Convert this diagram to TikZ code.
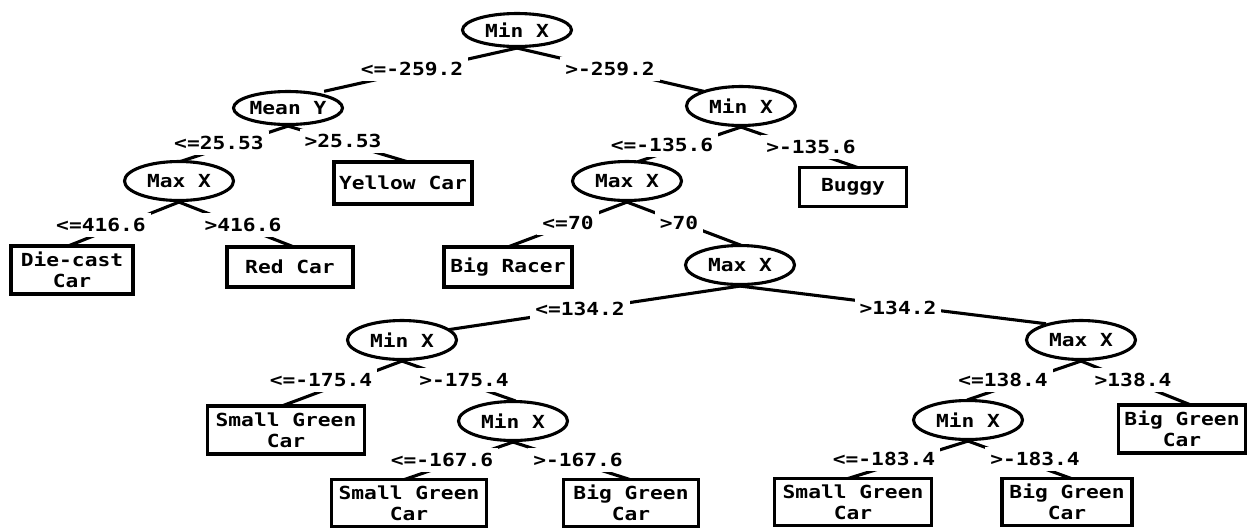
\documentclass[tikz,border=0pt]{standalone}
\usepackage{fontspec}
\newfontfamily\treefont{DejaVu Sans Mono}[FakeStretch=1.18]
\usetikzlibrary{shapes.geometric,backgrounds,calc}
\begin{document}
\begin{tikzpicture}[x=1pt,y=-1pt,
  every node/.style={font=\treefont\bfseries\fontsize{18}{21}\selectfont},
  decnode/.style={ellipse, draw, line width=3.1pt, fill=white, minimum width=109pt, minimum height=39pt, inner sep=0pt},
  leafbox/.style={rectangle, draw, line width=3.1pt, fill=white, inner sep=0pt, align=center},
  condlbl/.style={fill=white, inner xsep=5pt, inner ysep=5pt},
  branch/.style={line width=3.1pt, shorten <=-3pt, shorten >=-6pt}]
\useasboundingbox (0,0) rectangle (1249,531);
% decision nodes
\node[decnode, minimum height=33pt] (root) at (517,30) {Min X};
\node[decnode, minimum height=33pt] (meany) at (288,108) {Mean Y};
\node[decnode] (minx2) at (741,106) {Min X};
\node[decnode] (maxxL) at (179,181) {Max X};
\node[decnode] (maxxM) at (627,181) {Max X};
\node[decnode] (maxxC) at (740,265) {Max X};
\node[decnode] (minxLL) at (402,340) {Min X};
\node[decnode] (minxLLR) at (513,421) {Min X};
\node[decnode] (maxxR) at (1081,340) {Max X};
\node[decnode] (minxRL) at (968,420) {Min X};
% leaves
\node[leafbox, minimum width=138pt, minimum height=42pt] (yellow) at (403,183) {Yellow Car};
\node[leafbox, minimum width=122pt, minimum height=48pt] (diecast) at (72,270) {Die-cast\\Car};
\node[leafbox, minimum width=126pt, minimum height=40pt] (redcar) at (290,267) {Red Car};
\node[leafbox, minimum width=107pt, minimum height=39pt] (buggy) at (853,187) {Buggy};
\node[leafbox, minimum width=128pt, minimum height=40pt] (bigracer) at (508,267) {Big Racer};
\node[leafbox, minimum width=157pt, minimum height=48pt] (sgc1) at (286,430) {Small Green\\Car};
\node[leafbox, minimum width=155pt, minimum height=47pt] (sgc2) at (409,503) {Small Green\\Car};
\node[leafbox, minimum width=135pt, minimum height=47pt] (bgc1) at (631,503) {Big Green\\Car};
\node[leafbox, minimum width=157pt, minimum height=47pt] (sgc3) at (853,502) {Small Green\\Car};
\node[leafbox, minimum width=130pt, minimum height=47pt] (bgc3) at (1067,502) {Big Green\\Car};
\node[leafbox, minimum width=127pt, minimum height=48pt] (bgcR) at (1182,429) {Big Green\\Car};
% condition labels
\node[condlbl] (l1) at (412,69) {<=-259.2};
\node[condlbl] (l2) at (610,69) {>-259.2};
\node[condlbl] (l3) at (219,143) {<=25.53};
\node[condlbl] (l4) at (343,141) {>25.53};
\node[condlbl] (l5) at (101,225) {<=416.6};
\node[condlbl] (l6) at (243,225) {>416.6};
\node[condlbl] (l7) at (662,145) {<=-135.6};
\node[condlbl] (l8) at (811,147) {>-135.6};
\node[condlbl] (l9) at (568,223) {<=70};
\node[condlbl] (l10) at (679,223) {>70};
\node[condlbl] (l11) at (580,309) {<=134.2};
\node[condlbl] (l12) at (898,308) {>134.2};
\node[condlbl] (l13) at (321,380) {<=-175.4};
\node[condlbl] (l14) at (464,380) {>-175.4};
\node[condlbl] (l15) at (442,460) {<=-167.6};
\node[condlbl] (l16) at (578,460) {>-167.6};
\node[condlbl] (l17) at (1003,380) {<=138.4};
\node[condlbl] (l18) at (1133,380) {>138.4};
\node[condlbl] (l19) at (884,459) {<=-183.4};
\node[condlbl] (l20) at (1035,459) {>-183.4};
% connectors
\begin{pgfonlayer}{background}
\draw[branch] (root.south) -- ($(meany.center)+(42,-18)$);
\draw[branch] (root.south) -- ($(minx2.center)+(-43,-16)$);
\draw[branch] (meany.south) -- ($(maxxL.center)+(6,-21)$);
\draw[branch] (meany.south) -- (yellow.north);
\draw[branch] (maxxL.south) -- (diecast.north);
\draw[branch] (maxxL.south) -- (redcar.north);
\draw[branch] (minx2.south) -- ($(maxxM.center)+(16,-21)$);
\draw[branch] (minx2.south) -- (buggy.north);
\draw[branch] (maxxM.south) -- ([xshift=4pt]bigracer.north);
\draw[branch] (maxxM.south) -- ($(maxxC.center)+(-5,-22)$);
\draw[branch] (maxxC.south) -- ($(minxLL.center)+(51,-11)$);
\draw[branch] (maxxC.south) -- ($(maxxR.center)+(-41,-17)$);
\draw[branch] (minxLL.south) -- (sgc1.north);
\draw[branch] (minxLL.south) -- ($(minxLLR.center)+(-3,-22)$);
\draw[branch] (minxLLR.south) -- (sgc2.north);
\draw[branch] (minxLLR.south) -- ([xshift=-6pt]bgc1.north);
\draw[branch] (maxxR.south) -- ($(minxRL.center)+(5,-22)$);
\draw[branch] (maxxR.south) -- ([xshift=5pt]bgcR.north);
\draw[branch] (minxRL.south) -- (sgc3.north);
\draw[branch] (minxRL.south) -- (bgc3.north);
\end{pgfonlayer}
\end{tikzpicture}
\end{document}
